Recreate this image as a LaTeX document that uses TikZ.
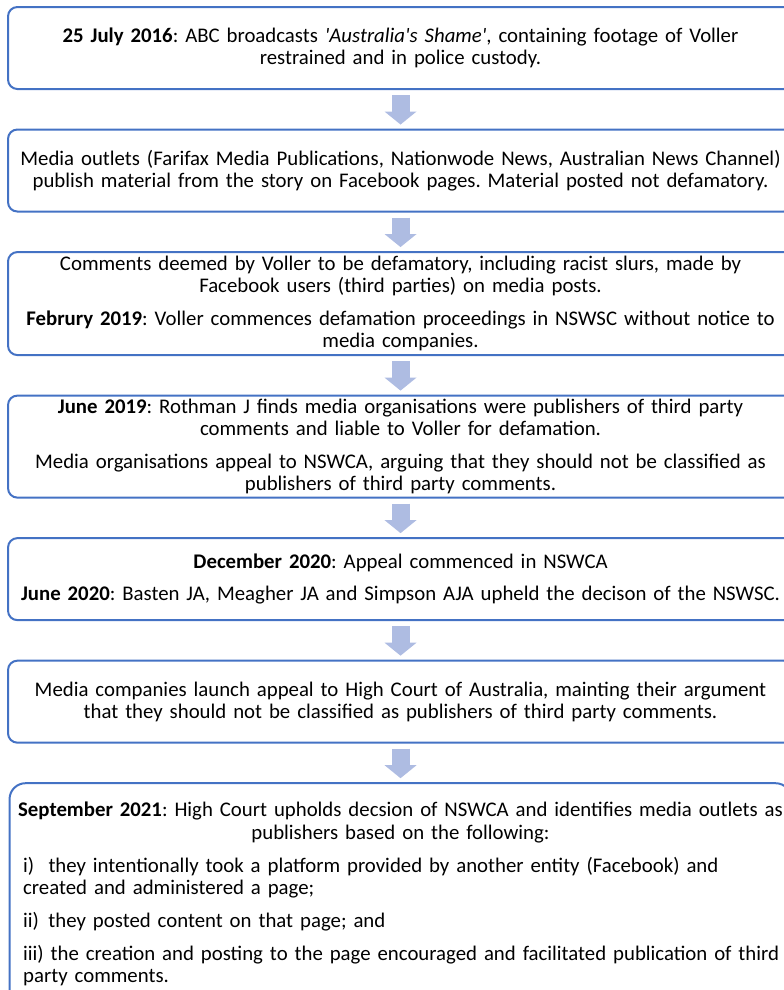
\documentclass[tikz,border=0pt]{standalone}
\usepackage{fontspec}
\setmainfont{Carlito}
\usepackage{tikz}
\usetikzlibrary{positioning,arrows.meta}
\definecolor{boxblue}{HTML}{4472C4}
\definecolor{arrowblue}{HTML}{AEBCE2}
\frenchspacing

\tikzset{
  eventbox/.style={draw=boxblue, line width=1.5pt, rounded corners=7pt,
    inner sep=0pt, outer sep=0pt, font=\fontsize{15.6pt}{16.8pt}\selectfont},
  midtext/.style={text width=578pt, align=center, minimum width=588.75pt},
  downarrow/.style={draw=arrowblue, line width=13.5pt,
    -{Triangle[length=9.75pt, width=24pt, line width=0pt, fill=arrowblue]},
    shorten <=4.5pt, shorten >=3.75pt}
}

\begin{document}
\begin{tikzpicture}
    \useasboundingbox (0,0) rectangle (588pt,-742.5pt);
    \clip (0,0) rectangle (588pt,-742.5pt);
    \node[eventbox, midtext, minimum height=61.5pt] (broadcast) at (300.4pt,-36pt)
      {\textbf{25 July 2016}: ABC broadcasts \textit{\textquotesingle Australia\textquotesingle s Shame\textquotesingle}, containing footage of Voller\\
       restrained and in police custody.};
    \node[eventbox, midtext, minimum height=61.5pt, below=30.4pt of broadcast] (outlets)
      {Media outlets (Farifax Media Publications, Nationwode News, Australian News Channel)\\
       publish material from the story on Facebook pages. Material posted not defamatory.};
    \node[eventbox, midtext, minimum height=77.25pt, below=30.4pt of outlets] (comments)
      {Comments deemed by Voller to be defamatory, including racist slurs, made by\\
       Facebook users (third parties) on media posts.\\[7.5pt]
       \textbf{Februry 2019}: Voller commences defamation proceedings in NSWSC without notice to\\
       media companies.};
    \node[eventbox, midtext, minimum height=76.5pt, below=30.4pt of comments] (rothman)
      {\textbf{June 2019}: Rothman J finds media organisations were publishers of third party\\
       comments and liable to Voller for defamation.\\[7.5pt]
       Media organisations appeal to NSWCA, arguing that they should not be classified as\\
       publishers of third party comments.};
    \node[eventbox, midtext, minimum height=61.5pt, below=30.4pt of rothman] (nswca)
      {\textbf{December 2020}: Appeal commenced in NSWCA\\[7.5pt]
       \textbf{June 2020}: Basten JA, Meagher JA and Simpson AJA upheld the decison of the NSWSC.};
    \node[eventbox, midtext, minimum height=61.5pt, below=30.4pt of nswca] (highcourt)
      {Media companies launch appeal to High Court of Australia, mainting their argument\\
       that they should not be classified as publishers of third party comments.};
    \node[eventbox, rounded corners=12pt, text width=566pt, align=left, minimum width=586.5pt,
          minimum height=166.5pt, below=30.4pt of highcourt] (decision)
      {\makebox[566pt]{\textbf{September 2021}: High Court upholds decsion of NSWCA and identifies media outlets as}\\
       \makebox[566pt]{publishers based on the following:}\\[8pt]
       \makebox[566pt][l]{\makebox[19pt][l]{i)}they intentionally took a platform provided by another entity (Facebook) and}\\
       \makebox[566pt][l]{created and administered a page;}\\[8pt]
       \makebox[566pt][l]{\makebox[19pt][l]{ii)}they posted content on that page; and}\\[7.5pt]
       \makebox[566pt][l]{iii) the creation and posting to the page encouraged and facilitated publication of third}\\
       \makebox[566pt][l]{party comments.}};
    \draw[downarrow] (broadcast) -- (outlets);
    \draw[downarrow] (outlets) -- (comments);
    \draw[downarrow] (comments) -- (rothman);
    \draw[downarrow] (rothman) -- (nswca);
    \draw[downarrow] (nswca) -- (highcourt);
    \draw[downarrow] (highcourt) -- (decision);
\end{tikzpicture}
\end{document}
